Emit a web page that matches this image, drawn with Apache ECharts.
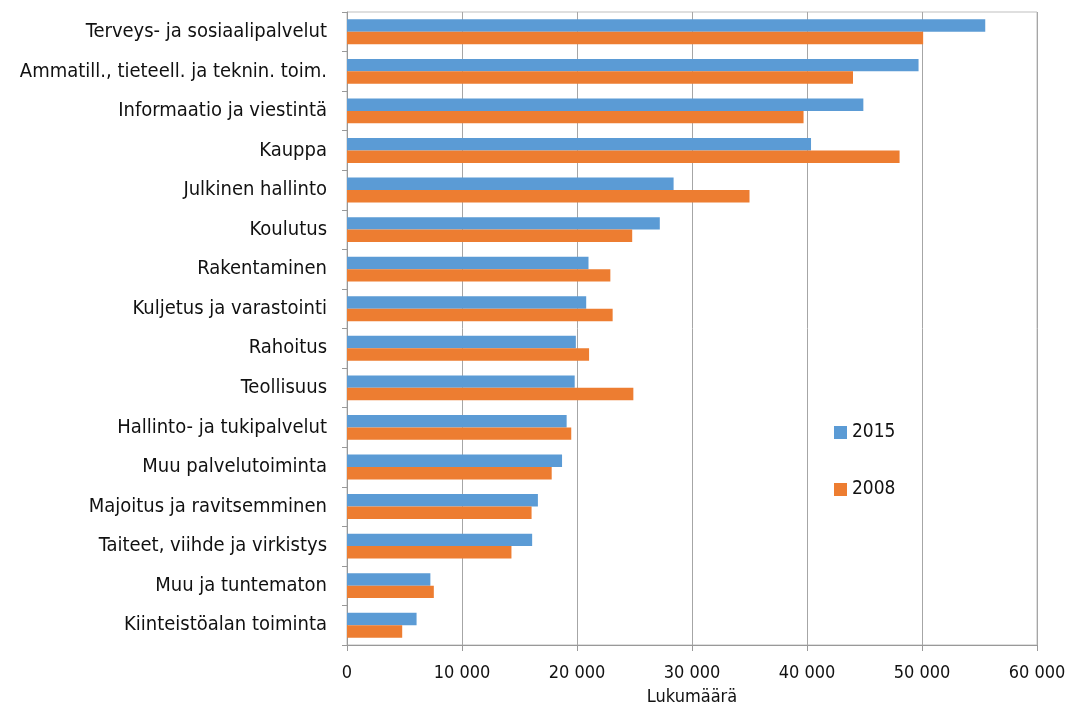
<!DOCTYPE html>
<html><head><meta charset="utf-8">
<script src="https://cdn.jsdelivr.net/npm/echarts@6/dist/echarts.min.js"></script>
<style>html,body{margin:0;padding:0;background:#fff}#c{width:1071px;height:711px}</style>
</head><body><div id="c"></div>
<script>
const categories = ["Terveys- ja sosiaalipalvelut","Ammatill., tieteell. ja teknin. toim.","Informaatio ja viestintä","Kauppa","Julkinen hallinto","Koulutus","Rakentaminen","Kuljetus ja varastointi","Rahoitus","Teollisuus","Hallinto- ja tukipalvelut","Muu palvelutoiminta","Majoitus ja ravitsemminen","Taiteet, viihde ja virkistys","Muu ja tuntematon","Kiinteistöalan toiminta"];
const values2015 = [55500,49700,44900,40350,28400,27200,21000,20800,19900,19800,19100,18700,16600,16100,7250,6050];
const values2008 = [50100,44000,39700,48050,35000,24800,22900,23100,21050,24900,19500,17800,16050,14300,7550,4800];
const xTicks = [0,10000,20000,30000,40000,50000,60000];
const font = '"DejaVu Sans Condensed","Liberation Sans Narrow",sans-serif';
const chart = echarts.init(document.getElementById('c'));
chart.setOption({
  animation:false,
  textStyle:{fontFamily:font},
  grid:{left:347,right:34,top:12,bottom:63,show:true,borderColor:'#bfbfbf',borderWidth:1},
  legend:{orient:'vertical',left:829,top:418,itemGap:38,itemWidth:13,itemHeight:13,icon:'rect',
    data:['2015','2008'],textStyle:{fontFamily:font,fontSize:19,color:'#111'}},
  xAxis:{type:'value',min:0,max:60000,interval:10000,
    name:'Lukumäärä',nameLocation:'middle',nameGap:43,nameTextStyle:{fontFamily:font,fontSize:18,color:'#111'},
    axisLine:{show:true,lineStyle:{color:'#999'}},axisTick:{show:true,length:6,lineStyle:{color:'#999'}},
    axisLabel:{fontFamily:font,fontSize:18,color:'#111',margin:19,
      formatter:v=>xTicks.includes(v)?String(v).replace(/\B(?=(\d{3})+(?!\d))/g,' '):''},
    splitLine:{show:true,lineStyle:{color:'#a6a6a6',width:1}}},
  yAxis:{type:'category',data:categories,inverse:true,
    axisLine:{show:true,lineStyle:{color:'#999'}},axisTick:{show:true,length:5,lineStyle:{color:'#999'}},
    axisLabel:{fontFamily:font,fontSize:20,color:'#111',margin:20}},
  series:[
    {name:'2015',type:'bar',data:values2015,barGap:'0%',barCategoryGap:'37%',itemStyle:{color:'#5B9BD5'}},
    {name:'2008',type:'bar',data:values2008,barGap:'0%',barCategoryGap:'37%',itemStyle:{color:'#ED7D31'}}
  ]
});
</script></body></html>
